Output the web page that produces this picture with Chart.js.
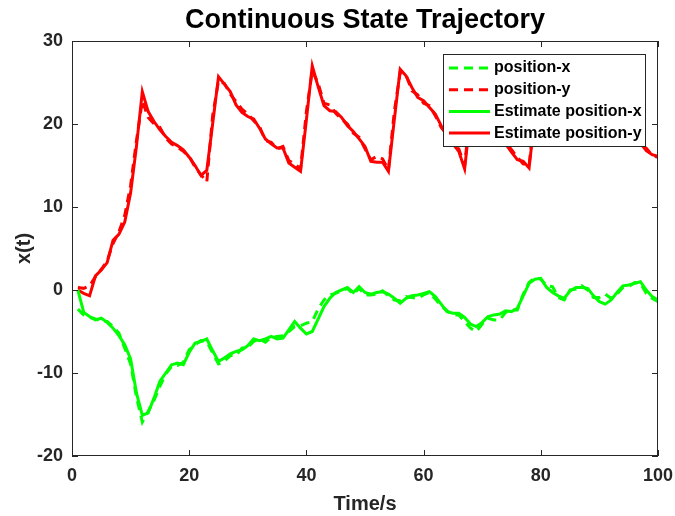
<!DOCTYPE html>
<html>
<head>
<meta charset="utf-8">
<script src="https://cdn.jsdelivr.net/npm/chart.js@4"></script>
<style>
  html, body { margin: 0; padding: 0; background: #fff; }
  canvas { display: block; }
</style>
</head>
<body>
<canvas id="trajChart" width="675" height="516"></canvas>
<script>
// DATA
const timeSteps = [
  1,2,3,4,5,6,7,8,9,10,11,12,13,14,15,16,17,18,19,20,
  21,22,23,24,25,26,27,28,29,30,31,32,33,34,35,36,37,38,39,40,
  41,42,43,44,45,46,47,48,49,50,51,52,53,54,55,56,57,58,59,60,
  61,62,63,64,65,66,67,68,69,70,71,72,73,74,75,76,77,78,79,80,
  81,82,83,84,85,86,87,88,89,90,91,92,93,94,95,96,97,98,99,100
];
const positionX = [
  -2.3,-3.0,-3.3,-3.5,-3.7,-3.8,-4.4,-5.2,-7.0,-8.9,-12.9,-15.9,-14.6,-13.3,-11.6,-10.1,-9.2,-9.1,-8.7,-7.2,
  -6.6,-6.1,-6.2,-7.6,-8.9,-8.6,-7.9,-7.9,-7.0,-6.9,-6.2,-5.9,-6.3,-5.7,-5.6,-5.5,-5.0,-4.4,-4.3,-4.0,
  -3.8,-2.3,-1.2,-0.6,-0.4,-0.1,0.2,-0.5,0.2,-0.6,-0.6,-0.5,-0.1,-0.7,-1.2,-1.3,-0.8,-0.9,-1.0,-0.6,
  -0.3,-1.1,-1.9,-2.5,-3.0,-3.0,-3.8,-4.6,-5.0,-4.1,-3.4,-3.6,-3.6,-2.7,-2.4,-2.4,-0.5,0.9,1.5,1.3,
  0.5,0.4,-0.9,-1.2,0.0,0.1,0.5,0.0,-0.9,-0.9,-0.5,-1.0,-0.5,0.3,0.4,0.9,0.8,-0.4,-1.0,-1.4
];
const positionY = [
  0.3,0.2,0.5,1.6,2.5,3.5,5.6,7.0,9.0,12.6,18.0,22.8,20.8,20.0,19.6,18.3,17.6,17.2,16.7,16.1,
  14.8,13.9,13.0,21.0,25.2,24.9,23.6,22.7,21.8,21.2,20.4,19.7,18.0,17.8,17.0,17.3,15.6,15.2,14.6,21.5,
  26.4,24.9,22.5,22.3,21.3,20.6,20.0,18.9,18.4,17.0,15.7,16.1,15.8,14.5,21.5,26.2,25.9,24.0,23.5,22.5,
  22.2,21.0,19.6,18.7,17.4,17.0,15.0,21.8,25.2,23.8,21.2,20.3,18.5,17.8,16.9,16.0,15.2,15.0,21.6,24.6,
  24.2,23.0,22.7,21.6,21.4,20.4,20.3,19.4,19.4,18.7,18.8,18.2,18.4,17.9,18.1,17.7,17.5,17.1,16.2,16.0
];
const estimateX = [
  0.0,-2.7,-3.2,-3.6,-3.4,-3.9,-4.6,-5.5,-6.6,-8.3,-12.4,-15.1,-14.8,-13.0,-11.0,-10.0,-9.0,-8.8,-9.0,-7.5,
  -6.4,-6.2,-5.9,-7.3,-8.6,-8.2,-7.7,-7.4,-7.2,-6.7,-5.9,-6.1,-5.9,-5.6,-5.9,-5.8,-4.8,-3.8,-4.6,-5.3,
  -5.0,-3.5,-2.0,-1.0,-0.3,0.0,0.3,-0.3,0.4,-0.3,-0.5,-0.3,-0.2,-0.5,-1.0,-1.6,-1.0,-0.7,-0.6,-0.4,
  -0.2,-0.8,-1.7,-2.6,-2.8,-2.8,-3.3,-4.1,-4.4,-3.9,-3.2,-3.0,-2.9,-2.5,-2.6,-2.2,-0.7,0.8,1.3,1.4,
  0.3,-0.3,-0.7,-1.0,-0.1,0.3,0.3,0.2,-0.7,-1.4,-1.7,-1.2,-0.3,0.5,0.6,0.8,1.0,0.0,-0.8,-1.2
];
const estimateY = [
  0.0,-0.4,-0.7,1.7,2.4,3.3,6.0,6.7,8.2,11.7,17.3,23.9,21.5,20.3,19.3,18.5,17.8,17.4,16.9,16.0,
  15.0,13.8,14.4,20.0,25.7,24.8,23.9,22.3,21.4,20.9,20.6,19.5,18.2,17.6,17.1,17.1,15.3,14.8,14.3,20.5,
  27.0,24.5,22.2,21.6,21.5,20.8,19.8,19.1,18.2,17.3,15.5,15.4,15.4,14.3,20.5,26.6,25.8,24.4,23.2,22.8,
  22.0,21.2,19.8,18.5,17.6,16.7,14.6,21.0,25.5,23.5,21.5,20.0,18.8,17.6,16.6,15.7,15.5,14.7,21.0,25.0,
  24.0,23.2,22.5,21.8,21.2,20.6,20.1,19.6,19.2,18.9,18.6,18.4,18.2,18.0,17.9,17.8,17.7,16.8,16.3,16.1
];
const xTicks = [0, 20, 40, 60, 80, 100];
const yTicks = [-20, -10, 0, 10, 20, 30];

const GREEN = '#00ff00';
const RED = '#ff0000';
const AXIS = '#262626';
const FONT = "'Liberation Sans', Arial, Helvetica, sans-serif";
const DASH = [9, 6];

Chart.defaults.font.family = FONT;

const pts = arr => timeSteps.map((t, i) => ({ x: t, y: arr[i] }));

// matlab style: box, inward ticks, titles, legend inside the axes
const matlabLook = {
  id: 'matlabLook',
  afterDatasetsDraw(chart) {
    const { ctx, chartArea: a, scales: { x, y } } = chart;
    ctx.save();

    // box + ticks
    ctx.strokeStyle = AXIS;
    ctx.lineWidth = 1;
    ctx.setLineDash([]);
    ctx.strokeRect(a.left + 0.5, a.top + 0.5, a.right - a.left - 1, a.bottom - a.top - 1);
    ctx.beginPath();
    xTicks.forEach(v => {
      const px = Math.round(x.getPixelForValue(v)) + 0.5;
      ctx.moveTo(px, a.bottom); ctx.lineTo(px, a.bottom - 6);
      ctx.moveTo(px, a.top); ctx.lineTo(px, a.top + 6);
    });
    yTicks.forEach(v => {
      const py = Math.round(y.getPixelForValue(v)) + 0.5;
      ctx.moveTo(a.left, py); ctx.lineTo(a.left + 6, py);
      ctx.moveTo(a.right, py); ctx.lineTo(a.right - 6, py);
    });
    ctx.stroke();

    // legend
    const lx = 443, ly = 54, lw = 202, lh = 92;
    ctx.fillStyle = '#fff';
    ctx.fillRect(lx, ly, lw, lh);
    ctx.strokeStyle = AXIS;
    ctx.strokeRect(lx + 0.5, ly + 0.5, lw, lh);
    ctx.font = `bold 16px ${FONT}`;
    ctx.textBaseline = 'middle';
    ctx.textAlign = 'left';
    chart.data.datasets.forEach((ds, i) => {
      const ry = 68 + i * 21.7;
      ctx.strokeStyle = ds.borderColor;
      ctx.lineWidth = 3;
      ctx.setLineDash(ds.borderDash || []);
      ctx.beginPath();
      ctx.moveTo(449, ry); ctx.lineTo(490, ry);
      ctx.stroke();
      ctx.fillStyle = '#000';
      ctx.fillText(ds.label, 494, ry);
    });
    ctx.setLineDash([]);

    // titles
    ctx.fillStyle = '#000';
    ctx.textAlign = 'center';
    ctx.textBaseline = 'alphabetic';
    ctx.font = `bold 27px ${FONT}`;
    ctx.fillText('Continuous State Trajectory', (a.left + a.right) / 2, 28);
    ctx.fillStyle = AXIS;
    ctx.font = `bold 20px ${FONT}`;
    ctx.fillText('Time/s', (a.left + a.right) / 2, 510);
    ctx.translate(30, (a.top + a.bottom) / 2);
    ctx.rotate(-Math.PI / 2);
    ctx.fillText('x(t)', 0, 0);
    ctx.restore();
  }
};

new Chart(document.getElementById('trajChart'), {
  type: 'line',
  data: {
    datasets: [
      { label: 'position-x', data: pts(positionX), borderColor: GREEN, borderDash: DASH, order: 2 },
      { label: 'position-y', data: pts(positionY), borderColor: RED, borderDash: DASH, order: 2 },
      { label: 'Estimate position-x', data: pts(estimateX), borderColor: GREEN, order: 1 },
      { label: 'Estimate position-y', data: pts(estimateY), borderColor: RED, order: 1 }
    ]
  },
  options: {
    responsive: false,
    animation: false,
    layout: { padding: { top: 41, right: 17, left: 0, bottom: 0 } },
    elements: {
      point: { radius: 0 },
      line: { tension: 0, borderWidth: 3, fill: false }
    },
    plugins: {
      legend: { display: false },
      tooltip: { enabled: false }
    },
    scales: {
      x: {
        type: 'linear',
        min: 0,
        max: 100,
        afterFit: s => { s.height = 60; s.paddingLeft = 0; s.paddingRight = 0; },
        afterBuildTicks: s => { s.ticks = xTicks.map(v => ({ value: v })); },
        grid: { display: false, drawTicks: false },
        border: { display: false },
        ticks: { color: AXIS, font: { size: 18, weight: 'bold' }, padding: 9, maxRotation: 0 }
      },
      y: {
        type: 'linear',
        min: -20,
        max: 30,
        afterFit: s => { s.width = 72; s.paddingTop = 0; s.paddingBottom = 0; },
        afterBuildTicks: s => { s.ticks = yTicks.map(v => ({ value: v })); },
        grid: { display: false, drawTicks: false },
        border: { display: false },
        ticks: { color: AXIS, font: { size: 18, weight: 'bold' }, padding: 9 }
      }
    }
  },
  plugins: [matlabLook]
});
</script>
</body>
</html>
